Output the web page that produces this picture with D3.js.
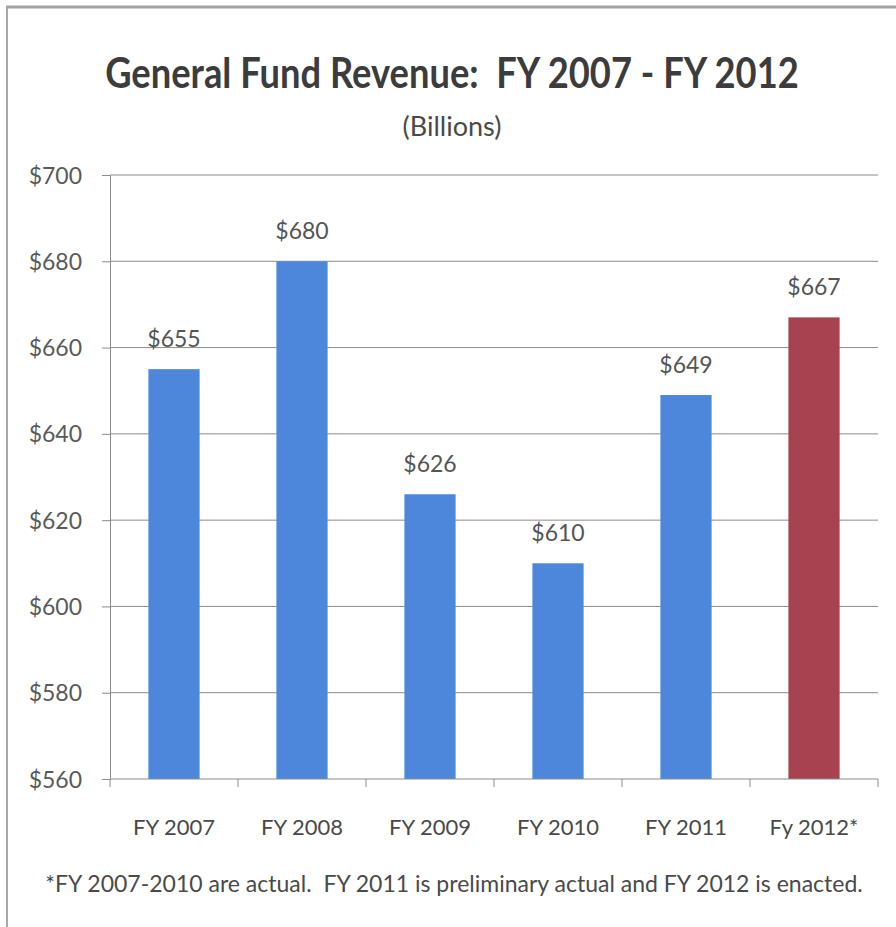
<!DOCTYPE html>
<html>
<head>
<meta charset="utf-8">
<script src="https://cdn.jsdelivr.net/npm/d3@7"></script>
<style>
  html, body { margin: 0; padding: 0; background: #fff; }
  svg { display: block; }
  text { font-family: Lato, "Open Sans", sans-serif; white-space: pre; }
</style>
</head>
<body>
<svg id="chart" width="896" height="927"></svg>
<script>
// General Fund revenue by fiscal year, in billions of dollars
const categories = ["FY 2007", "FY 2008", "FY 2009", "FY 2010", "FY 2011", "Fy 2012*"];
const revenue = [655, 680, 626, 610, 649, 667];
const valueLabels = ["$655", "$680", "$626", "$610", "$649", "$667"];
const yTicks = [560, 580, 600, 620, 640, 660, 680, 700];
const enacted = [false, false, false, false, false, true];

const title = "General Fund Revenue:  FY 2007 - FY 2012";
const subtitle = "(Billions)";
const footnote = "*FY 2007-2010 are actual.  FY 2011 is preliminary actual and FY 2012 is enacted.";

const svg = d3.select("#chart");
const plot = { left: 110, right: 878, top: 175, bottom: 779 };

// frame edges (top and left)
svg.append("line").attr("x1", 6).attr("x2", 896).attr("y1", 7).attr("y2", 7)
  .attr("stroke", "#a3a3a3").attr("stroke-width", 3);
svg.append("line").attr("x1", 7).attr("x2", 7).attr("y1", 6).attr("y2", 927)
  .attr("stroke", "#a8a8a8").attr("stroke-width", 2);

const x = d3.scaleBand().domain(categories).range([plot.left, plot.right]).paddingInner(0.6).paddingOuter(0.3);
const y = d3.scaleLinear().domain([560, 700]).range([plot.bottom, plot.top]);

// y axis
const yAxis = d3.axisLeft(y).tickValues(yTicks).tickSize(8).tickPadding(20).tickFormat(d => "$" + d);
const gy = svg.append("g").attr("transform", `translate(${plot.left},0)`).call(yAxis);
gy.select(".domain").attr("stroke", "#8c8c8c");
gy.selectAll(".tick line").attr("stroke", "#8c8c8c");
gy.selectAll(".tick text").attr("fill", "#5a5a5a").attr("font-size", 23).attr("dy", "0.35em");

// horizontal gridlines
svg.append("g").selectAll("line").data(yTicks.filter(d => d !== 560)).join("line")
  .attr("x1", plot.left).attr("x2", plot.right)
  .attr("y1", d => y(d)).attr("y2", d => y(d))
  .attr("stroke", "#8c8c8c").attr("stroke-width", 1);

// bars
svg.append("g").selectAll("rect").data(categories).join("rect")
  .attr("x", d => x(d))
  .attr("width", x.bandwidth())
  .attr("y", (d, i) => y(revenue[i]))
  .attr("height", (d, i) => y(560) - y(revenue[i]))
  .attr("fill", (d, i) => enacted[i] ? "#a6434e" : "#4d87db");

// x axis with category separators
const xAxisG = svg.append("g").attr("transform", `translate(0,${plot.bottom})`);
xAxisG.append("line").attr("x1", plot.left).attr("x2", plot.right)
  .attr("stroke", "#8c8c8c");
const bounds = d3.range(categories.length + 1).map(i => plot.left + i * (plot.right - plot.left) / categories.length);
xAxisG.selectAll("line.sep").data(bounds).join("line").attr("class", "sep")
  .attr("x1", d => d).attr("x2", d => d).attr("y1", 0).attr("y2", 8)
  .attr("stroke", "#8c8c8c");
xAxisG.selectAll("text").data(categories).join("text")
  .attr("x", d => x(d) + x.bandwidth() / 2)
  .attr("y", 56)
  .attr("text-anchor", "middle")
  .attr("font-size", 22)
  .attr("fill", "#4a4a4a")
  .text(d => d);

// value labels
svg.append("g").selectAll("text").data(categories).join("text")
  .attr("x", d => x(d) + x.bandwidth() / 2)
  .attr("y", (d, i) => y(revenue[i]) - 22)
  .attr("text-anchor", "middle")
  .attr("font-size", 23)
  .attr("fill", "#555")
  .text((d, i) => valueLabels[i]);

// titles (title condensed horizontally)
svg.append("g").attr("transform", "translate(452,88) scale(0.865,1)")
  .append("text").attr("x", 0).attr("y", 0).attr("text-anchor", "middle")
  .attr("font-size", 42).attr("font-weight", "bold").attr("fill", "#3c3c3c")
  .text(title);
svg.append("text").attr("x", 452).attr("y", 136).attr("text-anchor", "middle")
  .attr("font-size", 27).attr("fill", "#4a4a4a")
  .text(subtitle);

// footnote
svg.append("text").attr("x", 454).attr("y", 892).attr("text-anchor", "middle")
  .attr("font-size", 23).attr("fill", "#4a4a4a")
  .text(footnote);
</script>
</body>
</html>
